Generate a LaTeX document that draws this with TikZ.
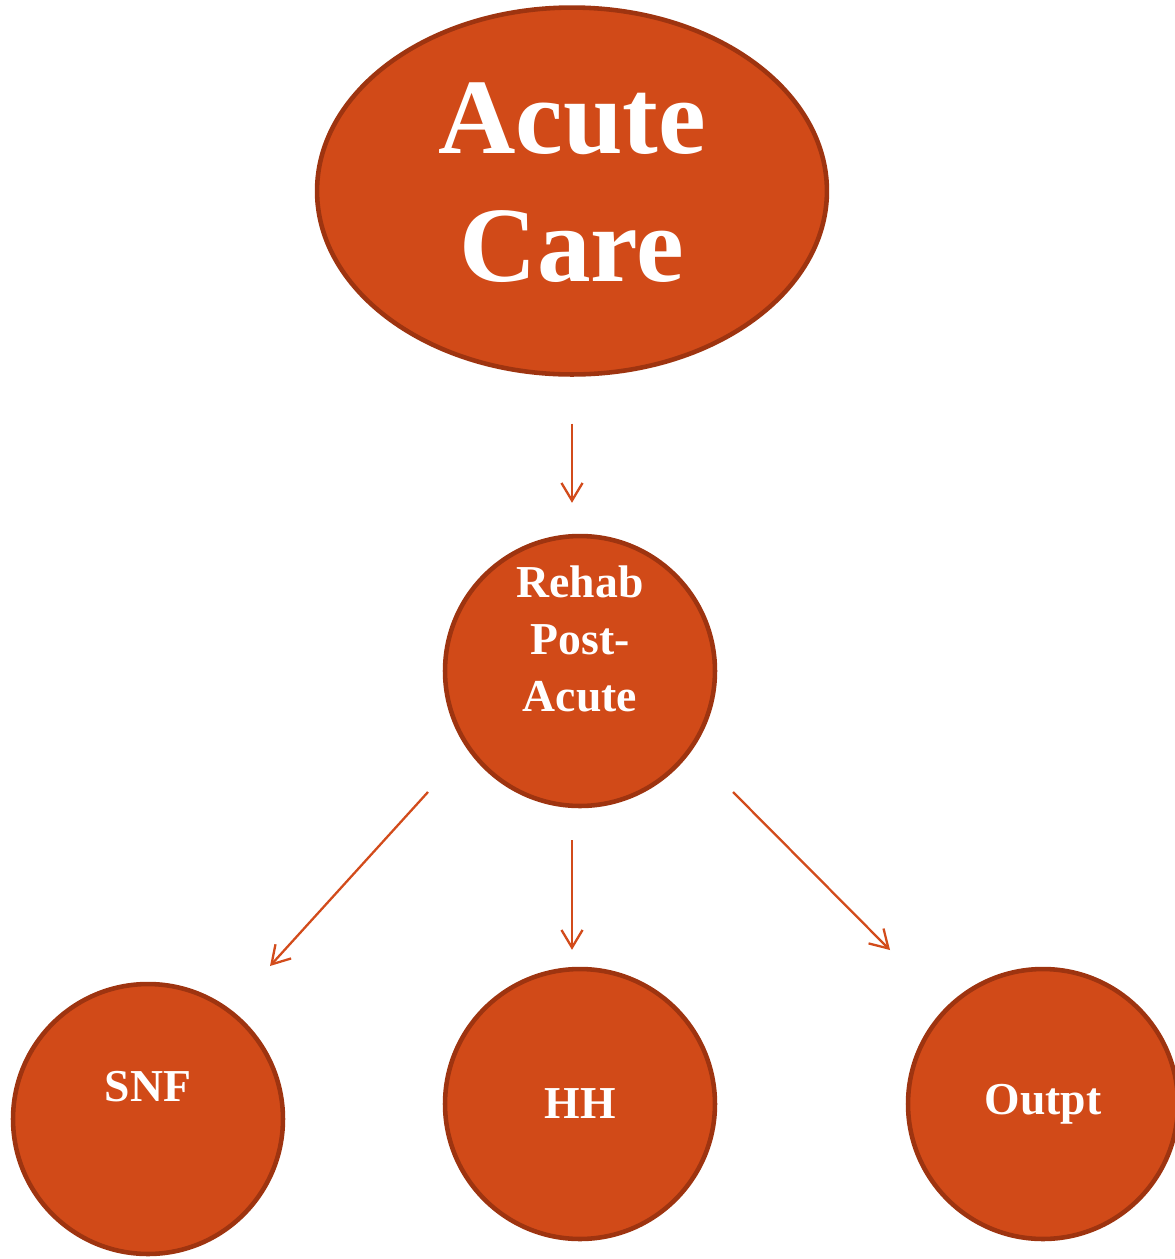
\documentclass[tikz,border=0pt]{standalone}
\usepackage{fontspec}
\setmainfont{Liberation Serif}
\usetikzlibrary{arrows.meta,positioning,shapes.geometric}
\definecolor{CareFill}{HTML}{D14A18}
\definecolor{CareEdge}{HTML}{9E3410}
\definecolor{CareFlow}{HTML}{D24B1B}

\begin{document}
\begin{tikzpicture}[x=0.02cm,y=-0.02cm,
    font=\bfseries,
    stage/.style={draw=CareEdge,line width=2.6pt,fill=CareFill,text=white,align=center},
    unit/.style={stage,circle,minimum size=5.4cm,inner sep=0pt,font=\bfseries\fontsize{26}{32.5}\selectfont},
    caption/.style={text=white,align=center,font=\bfseries\fontsize{26}{32.5}\selectfont},
    flow/.style={draw=CareFlow,line width=1.3pt,-{Straight Barb[length=10pt,width=12pt,line width=1.3pt]}}
  ]
  \useasboundingbox (0,0) rectangle (1175,1259);
  \node[stage,ellipse,minimum width=10.2cm,minimum height=7.34cm,
    label={[caption,yshift=0.17cm,font=\bfseries\fontsize{61}{73}\selectfont]center:Acute\\Care}] (acute) at (572,191) {};
  \node[unit,label={[caption,yshift=0.64cm]center:Rehab\\Post-\\Acute}] (rehab) at (580,671) {};
  \node[unit,label={[caption,yshift=0.64cm]center:SNF}] (snf) at (148,1119) {};
  \node[unit] (hh) at (580,1104) {HH};
  \node[unit] (outpt) at (1043,1104) {Outpt};
  % free ends of the side arrows
  \coordinate (snfstart) at (428,792);
  \coordinate (snfend) at (270,966);
  \coordinate (outstart) at (733,792);
  \coordinate (outend) at (890,950);
  \draw[flow,shorten <=0.94cm,shorten >=0.62cm] (acute.south) -- (acute.south |- rehab.north);
  \draw[flow] (snfstart) -- (snfend);
  \draw[flow,shorten <=0.64cm,shorten >=0.34cm] ([xshift=-0.16cm]rehab.south) -- ([xshift=-0.16cm]hh.north);
  \draw[flow] (outstart) -- (outend);
\end{tikzpicture}
\end{document}
